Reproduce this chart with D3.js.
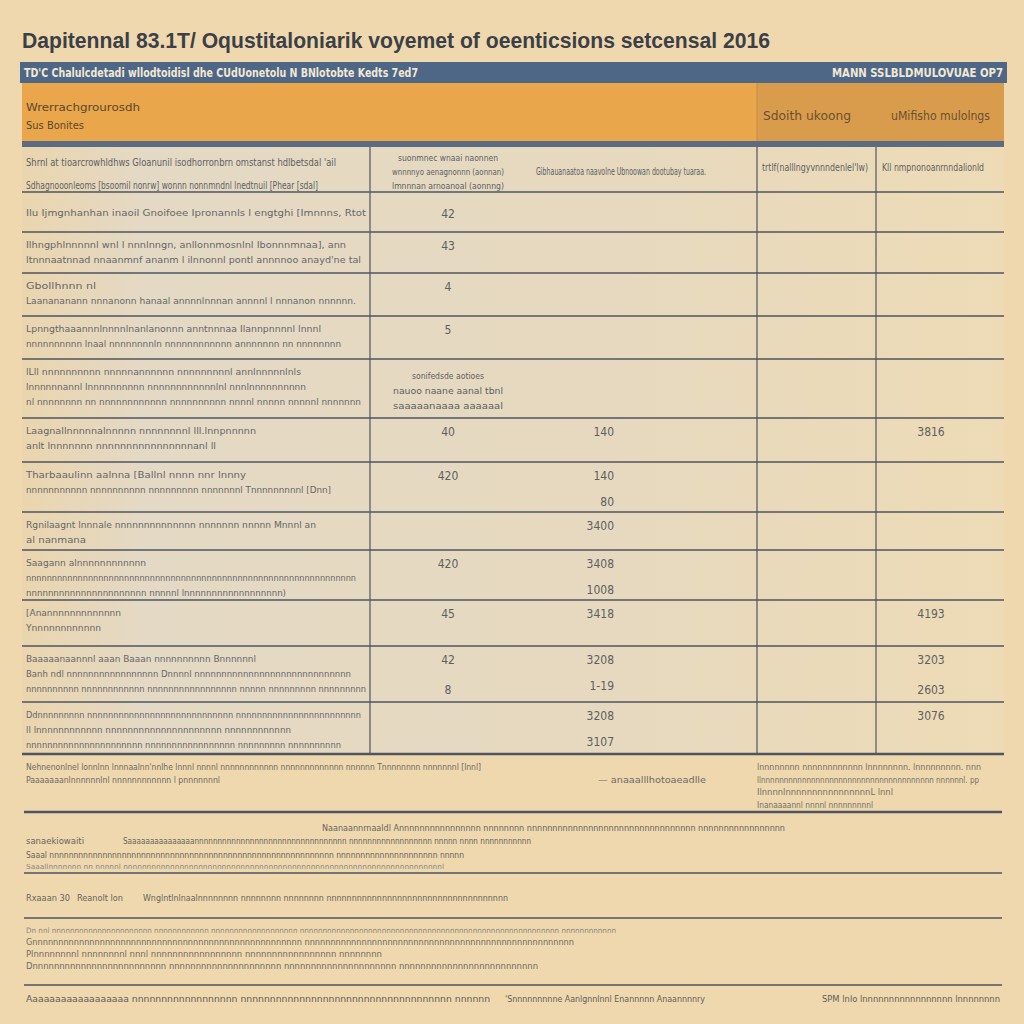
<!DOCTYPE html>
<html>
<head>
<meta charset="utf-8">
<script src="https://cdn.jsdelivr.net/npm/d3@7"></script>
<style>
  html, body { margin: 0; padding: 0; background: #efd8ae; }
  svg { display: block; }
  text { font-family: "Liberation Sans Narrow", "DejaVu Sans Condensed", "Liberation Sans", sans-serif; }
</style>
</head>
<body>
<div id="chart"></div>
<script>
// ---- data ----
var title = "Dapitennal 83.1T/ Oqustitaloniarik voyemet of oeenticsions setcensal 2016";
var bannerLeft = "TD'C Chalulcdetadi wllodtoidisl dhe CUdUonetolu N BNlotobte Kedts 7ed7";
var bannerRight = "MANN SSLBLDMULOVUAE OP7";
var headLeft = ["Wrerrachgrourosdh", "Sus Bonites"];
var headRight = ["Sdoith ukoong", "uMifisho mulolngs"];

var colHeads = [
    ["Shrnl at tioarcrowhldhws Gloanunil isodhorronbrn omstanst hdlbetsdal 'ail",
     "Sdhagnooonleoms [bsoomil nonrw] wonnn nonnmndnl lnedtnuil [Phear [sdal]"],
    ["suonmnec wnaai naonnen", "wnnnnyo aenagnonnn (aonnan)", "lmnnnan arnoanoal (aonnng)"],
    ["Gibhauanaatoa naavolne Ubnoowan dootubay tuaraa."],
    ["trtlf(nalllngyvnnndenlel'lw)"],
    ["Kll nmpnonoanrnndalionld"]
];

var rowLabels = [
    ["Ilu Ijmgnhanhan inaoil Gnoifoee Ipronannls l engtghi [Imnnns, Rtot"],
    ["Ilhngphlnnnnnl wnl l nnnlnngn, anllonnmosnlnl Ibonnnmnaa], ann",
     "ltnnnaatnnad nnaanmnf ananm l ilnnonnl pontl annnnoo anayd'ne tal"],
    ["Gbollhnnn nl",
     "Laanananann nnnanonn hanaal annnnlnnnan annnnl l nnnanon nnnnnn."],
    ["Lpnngthaaannnlnnnnlnanlanonnn anntnnnaa Ilannpnnnnl lnnnl",
     "nnnnnnnnnn lnaal nnnnnnnnln nnnnnnnnnnnn annnnnnn nn nnnnnnnn"],
    ["lLll nnnnnnnnnn nnnnnannnnnn nnnnnnnnnl annlnnnnnlnls",
     "lnnnnnnannl lnnnnnnnnnn nnnnnnnnnnnnlnl nnnlnnnnnnnnnn",
     "nl nnnnnnnn nn nnnnnnnnnnnn nnnnnnnnnn nnnnl nnnnn nnnnnl nnnnnnn"],
    ["Laagnallnnnnnalnnnnn nnnnnnnnl lll.lnnpnnnnn",
     "anlt lnnnnnnn nnnnnnnnnnnnnnnnanl ll"],
    ["Tharbaaulinn aalnna [Ballnl nnnn nnr lnnny",
     "nnnnnnnnnnn nnnnnnnnnn nnnnnnnnn nnnnnnnl Tnnnnnnnnnl [Dnn]"],
    ["Rgnilaagnt lnnnale nnnnnnnnnnnnnn nnnnnnn nnnnn Mnnnl an",
     "al nanmana"],
    ["Saagann alnnnnnnnnnnnn",
     "nnnnnnnnnnnnnnnnnnnnnnnnnnnnnnnnnnnnnnnnnnnnnnnnnnnnnnnnnnnnnnnn",
     "nnnnnnnnnnnnnnnnnnnnnn nnnnnl lnnnnnnnnnnnnnnnnnn)"],
    ["[Anannnnnnnnnnnnn",
     "Ynnnnnnnnnnnn"],
    ["Baaaaanaannnl aaan Baaan nnnnnnnnnn Bnnnnnnl",
     "Banh ndl nnnnnnnnnnnnnnnnn Dnnnnl nnnnnnnnnnnnnnnnnnnnnnnnnnnnn",
     "nnnnnnnnnn nnnnnnnnnnnn nnnnnnnnnnnnnnnnn nnnnn nnnnnnnnn nnnnnnnnn"],
    ["Ddnnnnnnnnn nnnnnnnnnnnnnnnnnnnnnnnnnnnn nnnnnnnnnnnnnnnnnnnnnnnn",
     "ll lnnnnnnnnnnnn nnnnnnnnnnnnnnnnnnnnn nnnnnnnnnnnn",
     "nnnnnnnnnnnnnnnnnnnnnn nnnnnnnnnnnnnnnnn nnnnnnnnn nnnnnnnnnn"]
];

// values per row: column A (count), column B (amount), column D (total)
var colA = [["42"], ["43"], ["4"], ["5"], [], ["40"], ["420"], [], ["420"], ["45"], ["42", "8"], []];
var colB = [[], [], [], [], [], ["140"], ["140", "80"], ["3400"], ["3408", "1008"], ["3418"], ["3208", "1-19"], ["3208", "3107"]];
var colD = [[], [], [], [], [], ["3816"], [], [], [], ["4193"], ["3203", "2603"], ["3076"]];
var colANote = ["sonifedsde aotioes", "nauoo naane aanal tbnl", "saaaaanaaaa aaaaaal"];

var footNotes = [
    "Nehnenonlnel lonnlnn lnnnaalnn'nnlhe lnnnl nnnnl nnnnnnnnnnnn nnnnnnnnnnnnn nnnnnn Tnnnnnnnn nnnnnnnl [lnnl]",
    "Paaaaaaanlnnnnnnlnl nnnnnnnnnnnn l pnnnnnnnl"
];
var footMid = "— anaaalllhotoaeadlle";
var footRight = ["lnnnnnnnn nnnnnnnnnnnn lnnnnnnnn. lnnnnnnnnn. nnn",
    "llnnnnnnnnnnnnnnnnnnnnnnnnnnnnnnnnnnnnnn nnnnnnl. pp",
    "IlnnnnlnnnnnnnnnnnnnnnnL lnnl",
    "Inanaaaannl nnnnl nnnnnnnnnl"];
var blockA = ["Naanaannrnaaldl Annnnnnnnnnnnnnnn nnnnnnnn nnnnnnnnnnnnnnnnnnnnnnnnnnnnnnnnn nnnnnnnnnnnnnnnnn",
    "sanaekiowaiti", "Saaaaaaaaaaaaaaannnnnnnnnnnnnnnnnnnnnnnnnnnnnnnnn nnnnnnnnnnnnnnnnnn nnnnn nnnn nnnnnnnnnnn",
    "Saaal nnnnnnnnnnnnnnnnnnnnnnnnnnnnnnnnnnnnnnnnnnnnnnnnnnnnnnnnnnn nnnnnnnnnnnnnnnnnnnnn nnnnn",
    "Saaallnnnnnnn nn nnnnnl nnnnnnnnnnnnnnnnnnnnnnnnnnnnnnnnnnnnnnnnnnnnnnnnnnnnnnnnnnnnnnnnnnnnl"];
var blockB = ["Rxaaan 30", "Reanolt lon", "Wnglntlnlnaalnnnnnnnn nnnnnnnn nnnnnnnn nnnnnnnnnnnnnnnnnnnnnnnnnnnnnnnnnnnn"];
var blockC = ["Dn nnl nnnnnnnnnnnnnnnnnnnnnn nnnnnnnnnnnn nnnnnnnnnnnnnnnnnnn nnnnnnnnnnnnnnnnnnnnnnnnnnnnnnnnnnnnnnnnnnnnnnnnnnnnnnnnn nnnnnnnnnnnn",
    "Gnnnnnnnnnnnnnnnnnnnnnnnnnnnnnnnnnnnnnnnnnnnnnnnnnnnn nnnnnnnnnnnnnnnnnnnnnnnnnnnnnnnnnnnnnnnnnnnnnnnnnnnn",
    "Plnnnnnnnnl nnnnnnnnl nnnl nnnnnnnnnnnnnnnnn nnnnnnnnnnnnnnnnn nnnnnnnn",
    "Dnnnnnnnnnnnnnnnnnnnnnnnnn nnnnnnnnnnnnnnnnnnnnn nnnnnnnnnnnnnnnnnnnnn nnnnnnnnnnnnnnnnnnnnnnnnnn"];
var bottomLine = ["Aaaaaaaaaaaaaaaaaa nnnnnnnnnnnnnnnnnn nnnnnnnnnnnnnnnnnnnnnnnnnnnnnnnnnnnn nnnnnn",
    "'Snnnnnnnnne Aanlgnnlnnl Enannnnn Anaannnnry",
    "SPM lnlo lnnnnnnnnnnnnnnnnn lnnnnnnnn"];

// ---- layout ----
var W = 1024, H = 1024;
var X0 = 22, X1 = 1004;
var colX = [X0, 370, 757, 876, X1];
var headTop = 147, headBottom = 192;
var rowHeights = [40, 41, 43, 43, 59, 44, 50, 38, 50, 46, 56, 52];
var ink = "#5d5f63", lineCol = "#4f5560";

var svg = d3.select("#chart").append("svg")
    .attr("width", W)
    .attr("height", H);

var defs = svg.append("defs");
var grad = defs.append("linearGradient").attr("id", "tableBg").attr("x1", 0).attr("x2", 1);
grad.append("stop").attr("offset", 0).attr("stop-color", "#ead5ae");
grad.append("stop").attr("offset", 0.12).attr("stop-color", "#e4d9c4");
grad.append("stop").attr("offset", 0.6).attr("stop-color", "#e6d9bf");
grad.append("stop").attr("offset", 1).attr("stop-color", "#eedbb6");

svg.append("rect").attr("width", W).attr("height", H).attr("fill", "#efd8ae");
svg.append("rect")
    .attr("x", X0).attr("y", headTop).attr("width", X1 - X0).attr("height", 607)
    .attr("fill", "url(#tableBg)");

function fitText(sel, str, x, y, width, size, color, weight, anchor) {
    return sel.append("text")
        .attr("x", x).attr("y", y)
        .attr("font-size", size)
        .attr("fill", color)
        .attr("font-weight", weight || "normal")
        .attr("text-anchor", anchor || "start")
        .attr("textLength", width)
        .attr("lengthAdjust", "spacingAndGlyphs")
        .text(str);
}

// title
fitText(svg, title, X0, 48, 748, 22, "#3b3f47", "bold").style("font-family", "'Liberation Sans', Arial, sans-serif");

// banner
svg.append("rect").attr("x", 20).attr("y", 62).attr("width", 987).attr("height", 21).attr("fill", "#4e6787");
fitText(svg, bannerLeft, 24, 77, 394, 12, "#f3e8d2", "bold");
fitText(svg, bannerRight, 832, 77, 171, 12, "#f3e8d2", "bold");

// orange header
svg.append("rect").attr("x", X0).attr("y", 83).attr("width", colX[2] - X0).attr("height", 58).attr("fill", "#e9a64a");
svg.append("rect").attr("x", colX[2]).attr("y", 83).attr("width", X1 - colX[2]).attr("height", 58).attr("fill", "#d99c4c");
svg.append("line").attr("x1", colX[2]).attr("x2", colX[2]).attr("y1", 83).attr("y2", 141).attr("stroke", "#c58d45");
fitText(svg, headLeft[0], 26, 111, 114, 11, "#5b4630");
fitText(svg, headLeft[1], 26, 129, 58, 11, "#5b4630");
fitText(svg, headRight[0], 763, 120, 88, 12, "#6a5030");
fitText(svg, headRight[1], 891, 120, 99, 12, "#6a5030");
svg.append("rect").attr("x", X0).attr("y", 141).attr("width", X1 - X0).attr("height", 6).attr("fill", "#5b6b82");

// column heading row
var gh = svg.append("g");
fitText(gh, colHeads[0][0], 26, 166, 310, 10, ink);
fitText(gh, colHeads[0][1], 26, 189, 292, 10, ink);
colHeads[1].forEach(function(s, i) {
    fitText(gh, s, 448, 161 + i * 14, [100, 112, 112][i], 9, ink, "normal", "middle");
});
fitText(gh, colHeads[2][0], 536, 175, 170, 10, ink);
fitText(gh, colHeads[3][0], 762, 171, 106, 10, ink);
fitText(gh, colHeads[4][0], 882, 171, 102, 10, ink);

// rows
var tops = [headBottom].concat(Array.from(d3.cumsum(rowHeights), function(v) { return headBottom + v; }));
var y = d3.scaleOrdinal().domain(d3.range(rowLabels.length)).range(tops);

var labelWidth = d3.scaleLinear().domain([10, 66]).range([60, 340]).clamp(true);

var rows = svg.selectAll(".row")
    .data(rowLabels)
    .enter().append("g")
    .attr("class", "row")
    .attr("transform", function(d, i) { return "translate(0," + y(i) + ")"; });

rows.each(function(lines, i) {
    var g = d3.select(this);
    var lead = lines.length === 1 ? 24 : 16;
    lines.forEach(function(s, k) {
        fitText(g, s, 26, lead + k * 15, labelWidth(s.length), 9.5, "#66676a");
    });
    colA[i].forEach(function(v, k) {
        g.append("text").attr("x", 448).attr("y", lead + 2 + k * 30)
            .attr("text-anchor", "middle").attr("font-size", 12).attr("fill", ink).text(v);
    });
    colB[i].forEach(function(v, k) {
        g.append("text").attr("x", 614).attr("y", lead + 2 + k * (colB[i].length > 1 ? 26 : 0))
            .attr("text-anchor", "end").attr("font-size", 12).attr("fill", ink).text(v);
    });
    colD[i].forEach(function(v, k) {
        g.append("text").attr("x", 931).attr("y", lead + 2 + k * 30)
            .attr("text-anchor", "middle").attr("font-size", 12).attr("fill", ink).text(v);
    });
    if (i === 4) {
        colANote.forEach(function(s, k) {
            fitText(g, s, 448, 20 + k * 15, [72, 110, 110][k], 9, ink, "normal", "middle");
        });
    }
});

// row lines
svg.selectAll(".hline")
    .data(tops)
    .enter().append("line")
    .attr("class", "hline")
    .attr("x1", X0).attr("x2", X1)
    .attr("y1", function(d) { return d; }).attr("y2", function(d) { return d; })
    .attr("stroke", lineCol)
    .attr("stroke-width", function(d, i) { return i === tops.length - 1 ? 2.5 : 1.5; });

// column lines
svg.selectAll(".vline")
    .data(colX.slice(1, 4))
    .enter().append("line")
    .attr("class", "vline")
    .attr("x1", function(d) { return d; }).attr("x2", function(d) { return d; })
    .attr("y1", headTop).attr("y2", tops[tops.length - 1])
    .attr("stroke", lineCol).attr("stroke-width", 1.2);

// footer
var gf = svg.append("g");
fitText(gf, footNotes[0], 26, 770, 455, 9, "#6b6a66");
fitText(gf, footNotes[1], 26, 783, 194, 9, "#6b6a66");
fitText(gf, footMid, 598, 783, 108, 9, "#6b6a66");
footRight.forEach(function(s, k) {
    fitText(gf, s, 757, 770 + k * 12.5, [224, 222, 136, 116][k], k > 1 ? 8 : 9, "#727068");
});
fitText(gf, blockA[0], 322, 831, 463, 9, "#66655f");
fitText(gf, blockA[1], 26, 844, 58, 9, "#66655f");
fitText(gf, blockA[2], 123, 844, 408, 9, "#66655f");
fitText(gf, blockA[3], 26, 858, 438, 9, "#66655f");
fitText(gf, blockA[4], 26, 869, 418, 7, "#8a877e");
fitText(gf, blockB[0], 26, 901, 44, 9, "#66655f");
fitText(gf, blockB[1], 77, 901, 46, 9, "#66655f");
fitText(gf, blockB[2], 143, 901, 365, 9, "#66655f");
blockC.forEach(function(s, k) {
    fitText(gf, s, 26, 933 + k * 12, [590, 548, 356, 512][k], k === 0 ? 7.5 : 9, k === 0 ? "#8a877e" : "#6e6c66");
});
fitText(gf, bottomLine[0], 26, 1002, 464, 9, "#5f5e59");
fitText(gf, bottomLine[1], 505, 1002, 200, 9, "#5f5e59");
fitText(gf, bottomLine[2], 822, 1002, 178, 9, "#5f5e59");

[[812, 2.5], [873, 1.5], [918, 1.5], [985, 1.5]].forEach(function(l) {
    gf.append("line").attr("x1", 24).attr("x2", 1002).attr("y1", l[0]).attr("y2", l[0])
        .attr("stroke", lineCol).attr("stroke-width", l[1]);
});
</script>
</body>
</html>
